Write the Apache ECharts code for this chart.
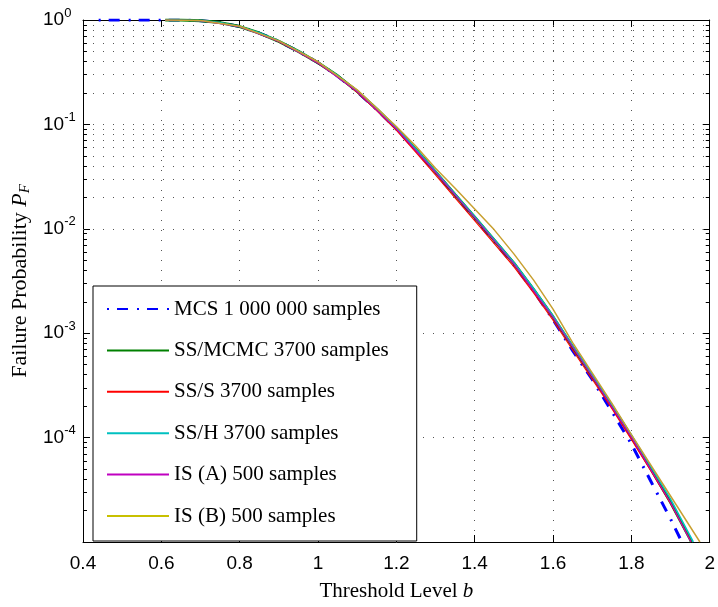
<!DOCTYPE html>
<html><head><meta charset="utf-8">
<script src="https://cdn.jsdelivr.net/npm/echarts@6/dist/echarts.min.js"></script>
<style>html,body{margin:0;padding:0;background:#fff}#c{width:718px;height:607px}</style>
</head><body><div id="c"></div>
<script>
// ---- data ----
const seriesNames = ['MCS 1 000 000 samples','SS/MCMC 3700 samples','SS/S 3700 samples','SS/H 3700 samples','IS (A) 500 samples','IS (B) 500 samples'];

const mcsB = [0.44,0.50,0.55,0.60,0.65,0.70,0.75,0.80,0.85,0.90,0.95,1.00,1.05,1.10,1.15,1.20,1.25,1.30,1.35,1.40,1.45,1.50,1.55,1.60,1.65,1.70,1.75,1.80,1.85,1.90,1.929];
const mcsP = [1,1,1,1,0.998,0.986,0.944,0.865,0.750,0.625,0.501,0.390,0.290,0.205,0.139,0.0905,0.0570,0.0347,0.0208,0.0126,7.5e-3,4.5e-3,2.55e-3,1.35e-3,6.8e-4,3.6e-4,1.78e-4,8.7e-5,3.8e-5,1.66e-5,1.0e-5];

const mcmcB = [0.61,0.65,0.70,0.75,0.80,0.85,0.90,0.95,1.00,1.05,1.10,1.15,1.20,1.25,1.30,1.35,1.40,1.45,1.50,1.55,1.60,1.65,1.70,1.75,1.80,1.85,1.90,1.95,1.953];
const mcmcP = [1,0.998,0.986,0.944,0.865,0.750,0.625,0.501,0.390,0.292,0.207,0.140,0.0912,0.0575,0.0351,0.0212,0.0129,7.76e-3,4.68e-3,2.63e-3,1.43e-3,7.41e-4,3.89e-4,2.02e-4,1.02e-4,5.01e-5,2.40e-5,1.07e-5,1.0e-5];

const ssSB = [0.61,0.65,0.70,0.75,0.80,0.85,0.90,0.95,1.00,1.05,1.10,1.15,1.20,1.25,1.30,1.35,1.40,1.45,1.50,1.55,1.60,1.65,1.70,1.75,1.80,1.85,1.90,1.95,1.952];
const ssSP = [1,0.998,0.985,0.942,0.862,0.746,0.620,0.496,0.385,0.287,0.203,0.136,0.0880,0.0540,0.0328,0.0198,0.0120,7.2e-3,4.35e-3,2.45e-3,1.33e-3,6.9e-4,3.62e-4,1.90e-4,9.6e-5,4.8e-5,2.34e-5,1.05e-5,1.0e-5];

const ssHB = [0.61,0.65,0.70,0.75,0.80,0.85,0.90,0.95,1.00,1.05,1.10,1.15,1.20,1.25,1.30,1.35,1.40,1.45,1.50,1.55,1.60,1.65,1.70,1.75,1.80,1.85,1.90,1.958];
const ssHP = [1,0.999,0.987,0.946,0.868,0.754,0.628,0.505,0.393,0.294,0.209,0.142,0.0920,0.0580,0.0355,0.0215,0.0131,7.9e-3,4.75e-3,2.68e-3,1.46e-3,7.6e-4,4.0e-4,2.08e-4,1.06e-4,5.25e-5,2.57e-5,1.0e-5];

const isAB = [0.61,0.70,0.80,0.90,1.00,1.10,1.20,1.30,1.40,1.50,1.60,1.70,1.80,1.90,1.952];
const isAP = [1,0.987,0.862,0.622,0.388,0.206,0.0905,0.0348,0.0128,4.62e-3,1.42e-3,3.85e-4,1.01e-4,2.38e-5,1.0e-5];

const isBB = [0.61,0.70,0.80,0.90,1.00,1.10,1.20,1.25,1.30,1.35,1.40,1.45,1.50,1.55,1.60,1.65,1.70,1.75,1.80,1.975];
const isBP = [1,0.989,0.871,0.631,0.398,0.214,0.0955,0.0617,0.0380,0.0245,0.0155,9.77e-3,5.75e-3,3.24e-3,1.70e-3,8.13e-4,4.17e-4,2.14e-4,1.07e-4,1.0e-5];

const xTicks = [0.4,0.6,0.8,1,1.2,1.4,1.6,1.8,2];
const yMin = 1e-5, yMax = 1;
const minorMantissa = [2,3,4,5,6,7,8,9];
const minorDecades = [1e-5,1e-4,1e-3,1e-2,1e-1];

// ---- build ----
const mk = (b, p) => b.map((x, i) => [x, p[i]]);
const minorVals = [];
minorDecades.forEach(d => minorMantissa.forEach(m => minorVals.push(+(m * d).toPrecision(3))));
const xMin = xTicks[0], xMax = xTicks[xTicks.length - 1];
const tickDx = (xMax - xMin) * 4 / 630;

const serif = 'Liberation Serif';
const sans = 'Liberation Sans';
const dotted = {color: '#555', width: 1, type: [1, 9]};

const chart = echarts.init(document.getElementById('c'), null, {renderer: 'canvas'});
const colors = ['#0000ff', '#008000', '#ff0000', '#00c0c0', '#c000c0', '#c8a030'];
const widths = [3, 3, 1.2, 1.6, 1.2, 1.5];

const series = [
  [mcsB, mcsP], [mcmcB, mcmcP], [ssSB, ssSP], [ssHB, ssHP], [isAB, isAP], [isBB, isBP]
].map((d, i) => ({
  name: seriesNames[i], type: 'line', data: mk(d[0], d[1]), symbol: 'none', showSymbol: false,
  lineStyle: {color: colors[i], width: widths[i], type: i === 0 ? [2, 8, 11, 9] : 'solid'},
  itemStyle: {color: colors[i]}, z: 3 + i, silent: true
}));

// minor grid & minor ticks (positions come from the axis scale)
series.unshift({
  name: '_grid', type: 'line', data: [], z: 1, silent: true,
  markLine: {
    silent: true, symbol: 'none', label: {show: false}, animation: false,
    lineStyle: dotted,
    data: minorVals.map(v => ({yAxis: v}))
  }
});
series.push({
  name: '_ticks', type: 'line', data: [], z: 10, silent: true,
  markLine: {
    silent: true, symbol: 'none', label: {show: false}, animation: false,
    lineStyle: {color: '#000', width: 1, type: 'solid'},
    data: minorVals.flatMap(v => [
      [{coord: [xMin, v]}, {coord: [xMin + tickDx, v]}],
      [{coord: [xMax - tickDx, v]}, {coord: [xMax, v]}]
    ])
  }
});

const legendData = seriesNames.map((n, i) => i === 5
  ? {name: n, itemStyle: {opacity: 0}, lineStyle: {color: '#c8c000'}}
  : {name: n, itemStyle: {opacity: 0}});

chart.setOption({
  animation: false,
  backgroundColor: '#fff',
  grid: {left: 83, right: 5, top: 20, bottom: 57, show: false},
  legend: {
    orient: 'vertical', left: 93, top: 286, padding: [12.5, 28, 14.5, 13],
    itemWidth: 62, itemHeight: 18, itemGap: 20.4,
    backgroundColor: '#fff', borderColor: '#000', borderWidth: 1, borderRadius: 0,
    selectedMode: false,
    itemStyle: {opacity: 0},
    textStyle: {fontFamily: serif, fontSize: 21, color: '#000'},
    data: legendData
  },
  xAxis: [{
    type: 'value', min: xMin, max: xMax, interval: 0.2, position: 'bottom',
    axisLine: {onZero: false, lineStyle: {color: '#000', width: 1}},
    axisTick: {inside: true, length: 7, lineStyle: {color: '#000'}},
    axisLabel: {fontFamily: sans, fontSize: 19, color: '#000', margin: 12},
    splitLine: {show: true, lineStyle: dotted},
    name: '{n|Threshold Level }{i|b}', nameLocation: 'middle', nameGap: 39,
    nameTextStyle: {rich: {
      n: {fontFamily: serif, fontSize: 21, color: '#000'},
      i: {fontFamily: serif, fontSize: 21, fontStyle: 'italic', color: '#000'}
    }}
  }, {
    type: 'value', min: xMin, max: xMax, interval: 0.2, position: 'top',
    axisLine: {onZero: false, lineStyle: {color: '#000', width: 1}},
    axisTick: {inside: true, length: 7, lineStyle: {color: '#000'}},
    axisLabel: {show: false}, splitLine: {show: false}
  }],
  yAxis: [{
    type: 'log', logBase: 10, min: yMin, max: yMax, position: 'left',
    axisLine: {onZero: false, lineStyle: {color: '#000', width: 1}},
    axisTick: {inside: true, length: 7, lineStyle: {color: '#000'}},
    axisLabel: {
      showMinLabel: false, align: 'left', margin: 40,
      formatter: v => {
        const e = Math.round(Math.log10(v));
        return '{b|10}{s|' + (e === 0 ? '0' : '-' + (-e)) + '}';
      },
      rich: {
        b: {fontFamily: sans, fontSize: 19, color: '#000'},
        s: {fontFamily: sans, fontSize: 13, color: '#000', padding: [0, 0, 14, 0]}
      }
    },
    splitLine: {show: true, lineStyle: dotted},
    name: '{n|Failure Probability }{i|P}{f|F}', nameLocation: 'middle', nameGap: 47,
    nameTextStyle: {rich: {
      n: {fontFamily: serif, fontSize: 22, color: '#000'},
      i: {fontFamily: serif, fontSize: 22, fontStyle: 'italic', color: '#000'},
      f: {fontFamily: serif, fontSize: 15, fontStyle: 'italic', color: '#000', padding: [9, 0, 0, 0]}
    }}
  }, {
    type: 'log', logBase: 10, min: yMin, max: yMax, position: 'right',
    axisLine: {onZero: false, lineStyle: {color: '#000', width: 1}},
    axisTick: {inside: true, length: 7, lineStyle: {color: '#000'}},
    axisLabel: {show: false}, splitLine: {show: false}
  }],
  series: series
});
</script></body></html>
